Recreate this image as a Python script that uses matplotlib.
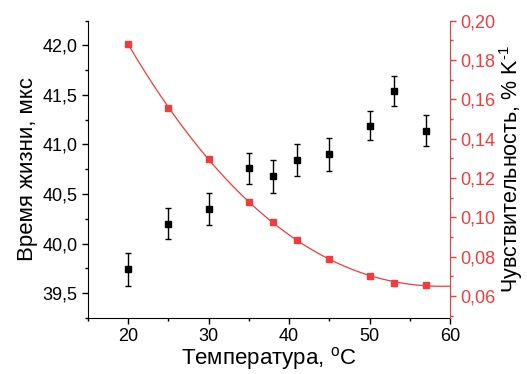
import matplotlib
matplotlib.use("Agg")
import matplotlib.pyplot as plt
from matplotlib.ticker import MultipleLocator, FuncFormatter
import numpy as np

plt.rcParams['font.family'] = ['Liberation Sans', 'DejaVu Sans']
plt.rcParams['mathtext.fontset'] = 'custom'
plt.rcParams['mathtext.rm'] = 'Liberation Sans'
plt.rcParams['mathtext.it'] = 'Liberation Sans'

# data
temp = [20, 25, 30, 35, 38, 41, 45, 50, 53, 57]
lifetime = [39.74, 40.20, 40.35, 40.76, 40.68, 40.84, 40.90, 41.19, 41.54, 41.14]
lifetime_err = [0.165, 0.155, 0.16, 0.155, 0.165, 0.16, 0.165, 0.15, 0.15, 0.16]
sens = [0.188, 0.1556, 0.1295, 0.1075, 0.0974, 0.0882, 0.0789, 0.0703, 0.0668, 0.0654]

red = '#f03c3c'

def comma(fmt):
    return FuncFormatter(lambda v, p: (fmt % v).replace('.', ','))

fig = plt.figure(figsize=(5.27, 3.74), dpi=100)
ax = fig.add_axes([0.167, 0.150, 0.687, 0.795])
ax2 = ax.twinx()

ax.errorbar(temp, lifetime, yerr=lifetime_err, fmt='s', color='black',
            ms=4, capsize=2.2, elinewidth=1, capthick=1, zorder=3)

# smooth line through the sensitivity points (as in the original)
coef = np.polyfit(temp, sens, 3)
xs = np.linspace(20, 60, 200)
ax2.plot(xs, np.polyval(coef, xs), color=red, lw=0.9)
ax2.plot(temp, sens, 's', color=red, ms=4.2)

ax.set_xlim(15, 60)
ax.set_ylim(39.25, 42.25)
ax2.set_ylim(0.0488, 0.20)

ax.xaxis.set_major_locator(MultipleLocator(10))
ax.xaxis.set_minor_locator(MultipleLocator(5))
ax.yaxis.set_major_locator(MultipleLocator(0.5))
ax.yaxis.set_minor_locator(MultipleLocator(0.25))
ax.yaxis.set_major_formatter(comma('%.1f'))
ax2.yaxis.set_major_locator(MultipleLocator(0.02))
ax2.yaxis.set_minor_locator(MultipleLocator(0.01))
ax2.yaxis.set_major_formatter(comma('%.2f'))

for a in (ax, ax2):
    a.spines['top'].set_visible(False)
    a.tick_params(which='major', direction='out', length=4, width=1, labelsize=13)
    a.tick_params(which='minor', direction='out', length=2.5, width=1)
ax.spines['right'].set_visible(False)
ax2.spines['left'].set_visible(False)
ax2.spines['bottom'].set_visible(False)
ax2.spines['right'].set_color(red)
ax2.tick_params(axis='y', which='both', colors=red)

ax.set_xlabel(r'Температура, $^{\mathrm{o}}$C', fontsize=16, labelpad=0)
ax.set_ylabel('Время жизни, мкс', fontsize=16, labelpad=3)
ax2.set_ylabel('Чувствительность, % K$^{\\mathrm{\u2010}1}$', fontsize=15.5, labelpad=1)

fig.savefig('out.png', dpi=100)
